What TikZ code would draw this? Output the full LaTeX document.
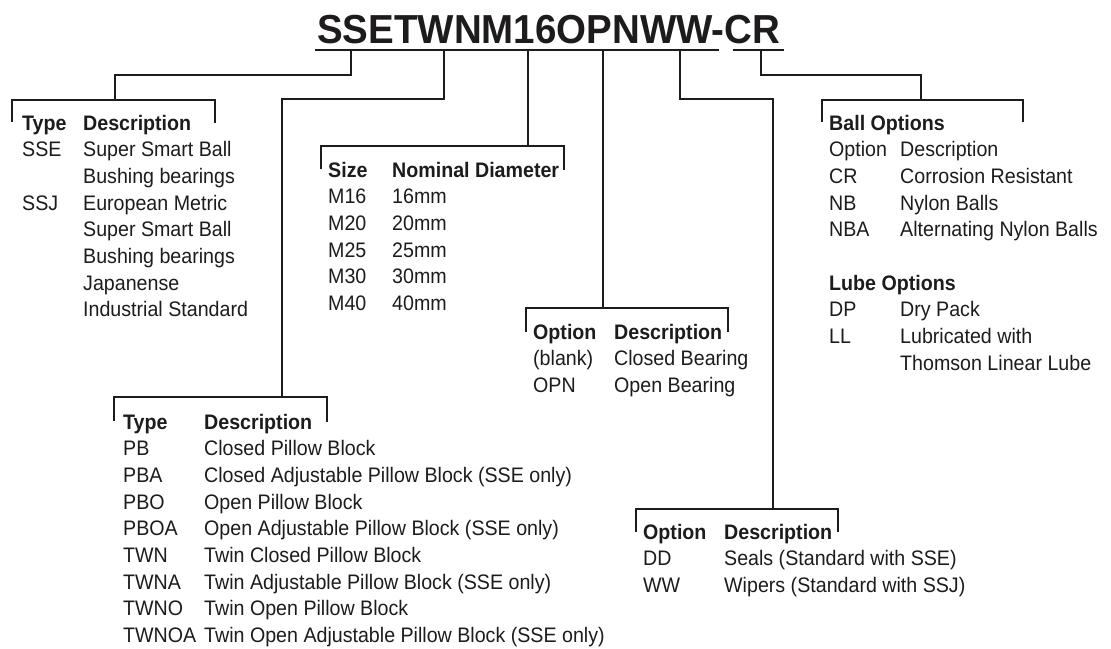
\documentclass[tikz,border=0pt]{standalone}
\usepackage{fontspec}
\setmainfont{Liberation Sans}
\newfontfamily\bodyfont{Liberation Sans}[FakeStretch=0.935]
\newfontfamily\headfont{Liberation Sans}[FakeStretch=0.95]
\usepackage{array}
\definecolor{ink}{RGB}{30,27,28}
\tikzset{
  conn/.style={line width=2.6pt, draw=ink, line join=miter},
  panel/.style={anchor=base west, inner sep=0pt, text=ink, font=\bodyfont\fontsize{21}{26.7}\selectfont},
  titlestyle/.style={anchor=base west, inner sep=0pt, text=ink, font=\headfont\fontsize{40.5}{42}\selectfont\bfseries},
}
\begin{document}
\begin{tikzpicture}[x=1pt,y=-1pt]
\fill[white] (0,0) rectangle (1111,648);
\useasboundingbox (0,0) rectangle (1111,648);

% title
\node[titlestyle] (title) at (317,43) {SSETWNM16OPNWW-CR};
\draw[conn] (315,50) -- (719,50);
\draw[conn] (733,50) -- (784,50);

% tap points on the title underline
\coordinate (u1) at (351,50);
\coordinate (u2) at (444,50);
\coordinate (u3) at (528,50);
\coordinate (u4) at (603,50);
\coordinate (u5) at (680,50);
\coordinate (u6) at (761,50);

% bracket top points
\coordinate (b1) at (115,100);
\coordinate (b2) at (282,397);
\coordinate (b3) at (528,146);
\coordinate (b4) at (603,308);
\coordinate (b5) at (773,509);
\coordinate (b6) at (921,100);

% connectors
\draw[conn] (u1) -- (351,75) -| (b1);
\draw[conn] (u2) -- (444,99) -| (b2);
\draw[conn] (u3) -- (b3);
\draw[conn] (u4) -- (b4);
\draw[conn] (u5) -- (680,99) -| (b5);
\draw[conn] (u6) -- (761,75) -| (b6);

% brackets
\draw[conn] (12,122) -- (12,100) -- (215,100) -- (215,123);
\draw[conn] (114,421) -- (114,397) -- (327,397) -- (327,422);
\draw[conn] (321,169) -- (321,146) -- (564,146) -- (564,170);
\draw[conn] (526,332) -- (526,308) -- (728,308) -- (728,332);
\draw[conn] (636,532) -- (636,509) -- (838,509) -- (838,532);
\draw[conn] (822,122) -- (822,100) -- (1023,100) -- (1023,122);

% panels
\node[panel] (ptype) at (22,130) {\begin{tabular}[t]{@{}p{61pt}@{}l@{}}
\textbf{Type} & \textbf{Description}\\
SSE & Super Smart Ball\\
 & Bushing bearings\\
SSJ & European Metric\\
 & Super Smart Ball\\
 & Bushing bearings\\
 & Japanense\\
 & Industrial Standard
\end{tabular}};

\node[panel] (psize) at (328,177) {\begin{tabular}[t]{@{}p{64pt}@{}l@{}}
\textbf{Size} & \textbf{Nominal Diameter}\\
M16 & 16mm\\
M20 & 20mm\\
M25 & 25mm\\
M30 & 30mm\\
M40 & 40mm
\end{tabular}};

\node[panel] (popen) at (533,339) {\begin{tabular}[t]{@{}p{81pt}@{}l@{}}
\textbf{Option} & \textbf{Description}\\
(blank) & Closed Bearing\\
OPN & Open Bearing
\end{tabular}};

\node[panel] (pblock) at (123,429) {\begin{tabular}[t]{@{}p{81pt}@{}l@{}}
\textbf{Type} & \textbf{Description}\\
PB & Closed Pillow Block\\
PBA & Closed Adjustable Pillow Block (SSE only)\\
PBO & Open Pillow Block\\
PBOA & Open Adjustable Pillow Block (SSE only)\\
TWN & Twin Closed Pillow Block\\
TWNA & Twin Adjustable Pillow Block (SSE only)\\
TWNO & Twin Open Pillow Block\\
TWNOA & Twin Open Adjustable Pillow Block (SSE only)
\end{tabular}};

\node[panel] (pseal) at (643,539) {\begin{tabular}[t]{@{}p{81pt}@{}l@{}}
\textbf{Option} & \textbf{Description}\\
DD & Seals (Standard with SSE)\\
WW & Wipers (Standard with SSJ)
\end{tabular}};

\node[panel] (pball) at (829,130) {\begin{tabular}[t]{@{}p{71pt}@{}l@{}}
\multicolumn{2}{@{}l@{}}{\textbf{Ball Options}}\\
Option & Description\\
CR & Corrosion Resistant\\
NB & Nylon Balls\\
NBA & Alternating Nylon Balls\\
 & \\
\multicolumn{2}{@{}l@{}}{\textbf{Lube Options}}\\
DP & Dry Pack\\
LL & Lubricated with\\
 & Thomson Linear Lube
\end{tabular}};
\end{tikzpicture}
\end{document}
